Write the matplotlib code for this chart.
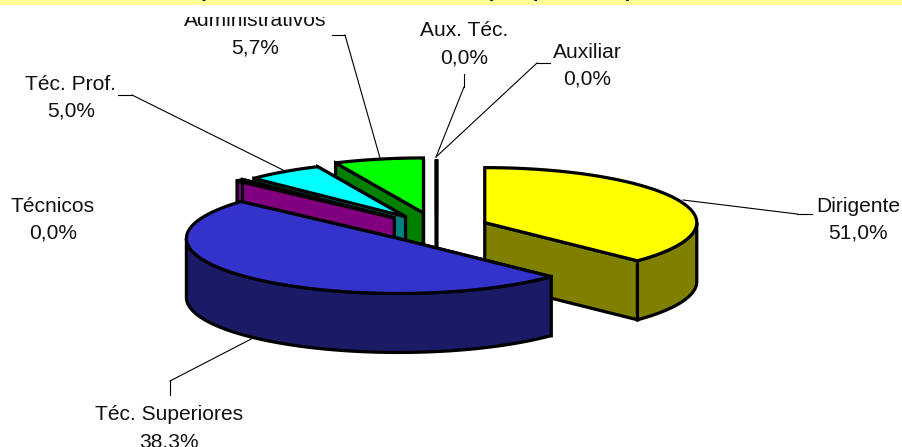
import numpy as np
import matplotlib
matplotlib.use('Agg')
import matplotlib.pyplot as plt
from matplotlib.patches import Polygon, Rectangle

plt.rcParams['font.family'] = ['Liberation Sans', 'DejaVu Sans']

# data labels as printed on the chart
categories = ['Dirigente', 'Téc. Superiores', 'Técnicos', 'Téc. Prof.',
              'Administrativos', 'Aux. Téc.', 'Auxiliar']
printed_pct = ['51,0%', '38,3%', '0,0%', '5,0%', '5,7%', '0,0%', '0,0%']
drawn_share = [37.2, 49.5, 0.6, 5.9, 6.8, 0.0, 0.0]
top_colors = ['#FFFF00', '#3333CC', '#FF00FF', '#00FFFF', '#00FF00', '#FFFFFF', '#FFFFFF']
side_colors = ['#808000', '#1A1A66', '#800080', '#008080', '#008000', '#FFFFFF', '#FFFFFF']

# pie geometry in pixels
cx, cy = 436, 228
rx, ry = 212, 55
depth = 59
explode = [0.25, 0.26, 0.27, 0.25, 0.28, 0.25, 0.25]
LW = 2.3

fig = plt.figure(figsize=(9.03, 4.47), dpi=100)
ax = fig.add_axes([0, 0, 1, 1])
ax.set_xlim(0, 903)
ax.set_ylim(447, 0)
ax.axis('off')

# title band, the title itself is cut by the top of the picture, only descenders show
ax.add_patch(Rectangle((0, 0), 903, 5, fc='#FFFF99', ec='none', zorder=1))
ax.text(128, -3, 'Distribuição', fontsize=14, va='baseline', zorder=2)
ax.text(395, -3, 'Remuneração', fontsize=14, va='baseline', zorder=2)
ax.text(533, -3, 'por', fontsize=14, fontweight='bold', va='baseline', zorder=2)
ax.text(590, -3, 'Grupo', fontsize=14, fontweight='bold', va='baseline', zorder=2)


def rim(c, a0, a1, n=80):
    t = np.radians(np.linspace(a0, a1, n))
    return np.column_stack([c[0] + rx * np.cos(t), c[1] - ry * np.sin(t)])


def draw_slice(a0, a1, top, side, e, z):
    # a0 > a1, going clockwise
    mid = np.radians((a0 + a1) / 2)
    c = (cx + e * rx * np.cos(mid), cy - e * ry * np.sin(mid))
    arc = rim(c, a0, a1)
    down = np.array([0, depth])
    kw = dict(ec='black', lw=LW, joinstyle='miter', zorder=z)
    # radial walls
    for p in (arc[0], arc[-1]):
        ax.add_patch(Polygon([c, p, p + down, np.array(c) + down], fc=side, **kw))
    # outer wall, only the front half shows
    for k in range(-2, 1):
        lo, hi = 180 + 360 * k, 360 + 360 * k
        s0, s1 = min(a0, hi), max(a1, lo)
        if s0 > s1:
            f = rim(c, s0, s1)
            ax.add_patch(Polygon(np.vstack([f, f[::-1] + down]), fc=side, **kw))
    ax.add_patch(Polygon(np.vstack([[c], arc]), fc=top, **kw))


angles = 90 - np.cumsum([0] + drawn_share) * 3.6
# painter's order: zero slices and small ones at the back, then yellow, blue in front
order = [6, 5, 4, 3, 2, 0, 1]
for z, i in enumerate(order):
    draw_slice(angles[i], angles[i + 1], top_colors[i], side_colors[i], explode[i], 3 + z)

# labels: centre x, y of first line
label_pos = [(858, 206), (169, 415), (53, 206), (71, 84), (255, 21), (464, 31), (587, 52)]
for name, pct, (x, y) in zip(categories, printed_pct, label_pos):
    t1 = ax.text(x, y, name, fontsize=15.1, ha='center', va='center', color='#111111', zorder=20)
    t2 = ax.text(x, y + 27, pct, fontsize=15.1, ha='center', va='center', color='#111111', zorder=20)
    if name == 'Administrativos':
        t1.set_clip_on(True)
        t1.set_clip_path(Rectangle((0, 17), 903, 30, transform=ax.transData))

# leader lines
leaders = [
    ([797, 812], [214, 214]), ([683, 797], [200, 214]),
    ([170, 170], [395, 381]), ([170, 257], [381, 336]),
    ([118, 132], [95, 95]), ([132, 283], [95, 170]),
    ([332, 345], [35, 35]), ([345, 380], [35, 158]),
    ([464, 464], [74, 87]), ([464, 436], [87, 157]),
    ([550, 537], [63, 63]), ([537, 436], [63, 157]),
]
for xs, ys in leaders:
    ax.plot(xs, ys, color='black', lw=0.8, zorder=2)

fig.savefig('out.png', dpi=100)
